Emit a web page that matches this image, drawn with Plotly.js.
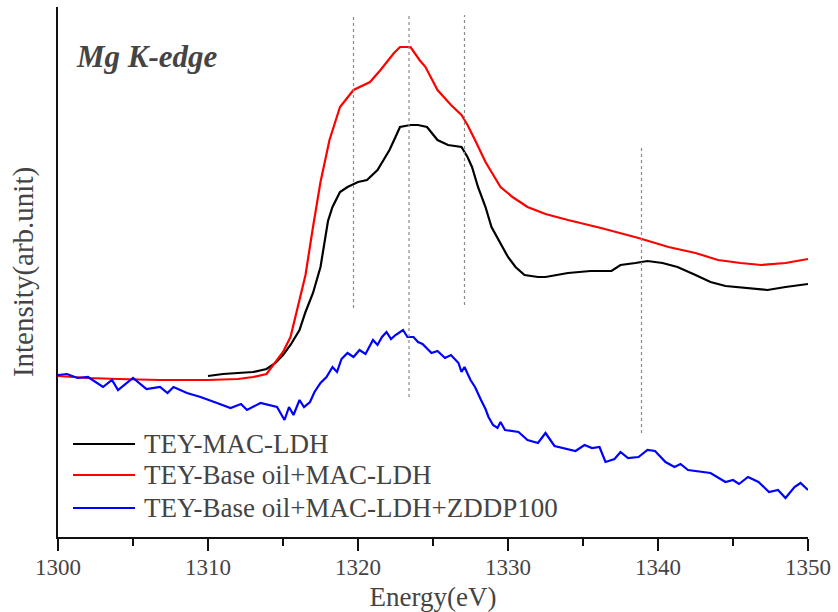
<!DOCTYPE html>
<html>
<head>
<meta charset="utf-8">
<script src="https://cdn.plot.ly/plotly-3.0.1.min.js"></script>
</head>
<body style="margin:0">
<div id="chart" style="width:838px;height:612px"></div>
<script>
// ---- Data (energy in eV, intensity in arbitrary units) ----
var blackE = [1310,1311,1312,1313,1313.9,1314.5,1315,1315.5,1316.1,1316.5,1317,1317.5,1318,1318.3,1318.8,1319.3,1320,1320.6,1321.3,1321.7,1322.1,1322.5,1322.8,1323.5,1324,1324.6,1325.3,1326,1326.9,1327.3,1327.6,1328,1328.5,1328.9,1329.5,1330,1330.5,1331.1,1332,1332.5,1334,1335.5,1336.9,1337.5,1338.5,1339.3,1340.3,1341.3,1342.5,1343.5,1344.5,1345.8,1347.3,1348.5,1350];
var blackI = [161,163,164,165,168,174,182,192,207,225,244,270,316,330,345,350,355,357,367,377,387,400,410,412,412,410,397,392,390,380,370,350,330,310,293,280,270,262,260,260,264,266,266,272,274,276,274,270,262,255,251,249,247,250,253];

var redE = [1300,1302,1304,1306.8,1310,1312,1313,1313.9,1314.6,1315,1315.5,1316.1,1316.5,1317,1317.5,1318.1,1318.8,1319.7,1320.8,1321.5,1322.4,1322.8,1323.5,1324.1,1324.5,1325.3,1326.2,1326.9,1327.3,1327.8,1328.5,1329.5,1330.3,1331.3,1332.5,1334,1336.2,1338.7,1340.7,1342.5,1344,1345.5,1346.9,1348.5,1350];
var redI = [161,159,158,157,157,158,160,163,177,185,200,237,262,310,355,397,430,447,455,467,484,490,490,477,470,447,432,422,412,397,375,350,340,330,323,317,309,299,290,284,277,274,272,274,278];

var blueE = [1300,1300.6,1301.3,1302,1303,1303.6,1304,1305,1305.9,1306.8,1307.3,1307.7,1308.6,1309.5,1310.6,1311.5,1312.2,1312.6,1313.5,1314.6,1315.1,1315.4,1315.7,1316.1,1316.4,1316.8,1317.1,1317.5,1317.9,1318.3,1318.6,1318.9,1319.3,1319.7,1320.1,1320.5,1321,1321.3,1321.6,1321.9,1322.2,1322.5,1323,1323.3,1323.7,1324,1324.3,1324.9,1325.3,1325.8,1326.2,1326.7,1326.9,1327.1,1327.5,1327.8,1328.2,1328.5,1328.7,1329,1329.3,1329.5,1329.8,1330.7,1331.3,1332,1332.5,1333.1,1334.5,1335.1,1335.6,1336.1,1336.5,1337.1,1337.5,1338,1338.7,1339.3,1339.8,1340.5,1341.1,1341.5,1342,1343.5,1344.5,1345,1345.4,1346,1346.7,1347.4,1348,1348.5,1349.1,1349.5,1350];
var blueI = [162,163,159,160,150,157,147,159,148,150,144,150,144,140,134,129,133,127,134,130,117,130,122,137,130,135,145,154,160,170,165,178,184,180,187,183,197,192,200,205,198,202,207,200,200,195,193,184,186,179,182,174,165,170,157,150,137,128,120,112,109,115,107,105,97,94,104,91,86,92,89,90,75,78,85,79,80,87,86,75,70,73,67,64,55,57,53,60,55,45,47,39,50,54,47];

var seriesNames = ["TEY-MAC-LDH", "TEY-Base oil+MAC-LDH", "TEY-Base oil+MAC-LDH+ZDDP100"];
var seriesColors = ["#000000", "#ff0000", "#0000ff"];

// dotted reference lines: energy, bottom, top
var refE = [1319.7, 1323.4, 1327.1, 1338.9];
var refLow = [229, 140, 232, 104];
var refHigh = [522, 522, 522, 392];

var xTicks = [1300, 1310, 1320, 1330, 1340, 1350];

var FONT = "Liberation Serif";

var traces = [];
for (var k = 0; k < refE.length; k++) {
  traces.push({x: [refE[k], refE[k]], y: [refLow[k], refHigh[k]], xaxis: "x2", yaxis: "y", mode: "lines",
    line: {color: "#8a8a8a", width: 1.2, dash: "dot"}, showlegend: false, hoverinfo: "skip"});
}
var xs = [blackE, redE, blueE], ys = [blackI, redI, blueI];
for (var i = 0; i < 3; i++) {
  traces.push({x: xs[i], y: ys[i], mode: "lines", name: seriesNames[i],
    line: {color: seriesColors[i], width: 2.2}, showlegend: false});
}

// manual legend (lines + labels) in paper coordinates
var legY = [0.1755, 0.117, 0.0547];
var shapes = [], annotations = [];
for (var j = 0; j < 3; j++) {
  shapes.push({type: "line", xref: "paper", yref: "paper", x0: 0.02, x1: 0.1027, y0: legY[j], y1: legY[j],
    line: {color: seriesColors[j], width: 2.2}});
  annotations.push({xref: "paper", yref: "paper", x: 0.112, y: legY[j], xanchor: "left", yanchor: "middle",
    text: seriesNames[j], showarrow: false, font: {family: FONT, size: 27}});
}
annotations.push({xref: "paper", yref: "paper", x: 0.021, y: 0.906, xanchor: "left", yanchor: "middle",
  text: "<b><i>Mg K-edge</i></b>", showarrow: false, font: {family: FONT, size: 31}});

var layout = {
  width: 838, height: 612,
  margin: {l: 58, r: 30, t: 7, b: 75},
  paper_bgcolor: "#ffffff", plot_bgcolor: "#ffffff",
  showlegend: false,
  font: {family: FONT},
  xaxis: {
    range: [1300, 1350], tickvals: xTicks, showticklabels: false,
    ticks: "outside", ticklen: 12, tickwidth: 2, tickcolor: "#111111",
    minor: {dtick: 5, ticks: "outside", ticklen: 7, tickwidth: 2, tickcolor: "#111111"},
    showline: true, linecolor: "#111111", linewidth: 2, showgrid: false, zeroline: false
  },
  xaxis2: {
    overlaying: "x", anchor: "y", side: "bottom", matches: "x",
    range: [1300, 1350], tickvals: xTicks, ticktext: xTicks.map(String),
    ticks: "outside", ticklen: 9, tickcolor: "rgba(0,0,0,0)",
    showline: false, showgrid: false, zeroline: false,
    tickfont: {family: FONT, size: 23},
    title: {text: "Energy(eV)", font: {family: FONT, size: 27}, standoff: 14}
  },
  yaxis: {
    range: [0, 530], showticklabels: false, ticks: "", showline: true, linecolor: "#111111", linewidth: 2,
    showgrid: false, zeroline: false,
    title: {text: "Intensity(arb.unit)", font: {family: FONT, size: 29}, standoff: 14}
  },
  shapes: shapes,
  annotations: annotations
};

Plotly.newPlot("chart", traces, layout, {displayModeBar: false});
</script>
</body>
</html>
